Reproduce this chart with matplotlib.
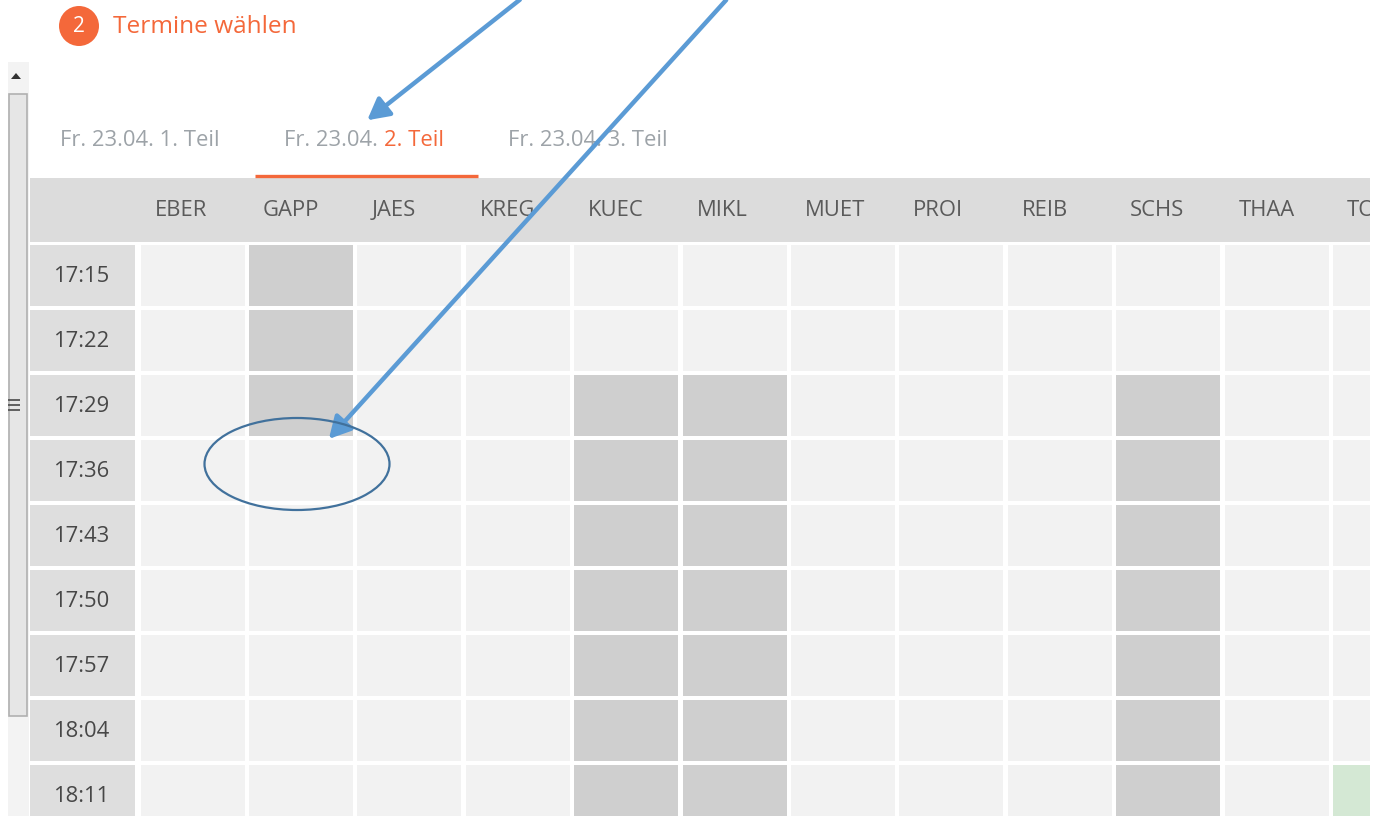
import matplotlib
matplotlib.use("Agg")
import matplotlib.pyplot as plt
from matplotlib.patches import Rectangle, Circle, Ellipse, FancyArrowPatch, Polygon

# ---- data ----
teachers = ["EBER", "GAPP", "JAES", "KREG", "KUEC", "MIKL", "MUET", "PROI", "REIB", "SCHS", "THAA", "TO"]
times = ["17:15", "17:22", "17:29", "17:36", "17:43", "17:50", "17:57", "18:04", "18:11"]
# booked slots (teacher -> list of time labels)
booked = {
    "GAPP": ["17:15", "17:22", "17:29"],
    "KUEC": ["17:29", "17:36", "17:43", "17:50", "17:57", "18:04", "18:11"],
    "MIKL": ["17:29", "17:36", "17:43", "17:50", "17:57", "18:04", "18:11"],
    "SCHS": ["17:29", "17:36", "17:43", "17:50", "17:57", "18:04", "18:11"],
}
selected = {"TO": ["18:11"]}
tabs = ["Fr. 23.04. 1. Teil", "Fr. 23.04. 2. Teil", "Fr. 23.04. 3. Teil"]
active_tab = 1
step_number = "2"
step_title = "Termine wählen"

# ---- style ----
ORANGE = "#f4683a"
GRAYTXT = "#9da3a8"
FONT = ["Open Sans", "DejaVu Sans"]
W, H = 1385, 816

fig = plt.figure(figsize=(W / 100, H / 100), dpi=100)
ax = fig.add_axes([0, 0, 1, 1])
ax.set_xlim(0, W)
ax.set_ylim(H, 0)
ax.axis("off")

# layout
grid_left, grid_right = 30, 1370
head_top, head_bot = 178, 242
col0, col_pitch, col_w = 140.5, 108.4, 104
row0, row_pitch, row_h = 245, 65, 61
time_left, time_w = 30, 105

# scrollbar
ax.add_patch(Rectangle((8, 62), 21, H - 62, facecolor="#f3f3f3", edgecolor="none", zorder=1))
ax.add_patch(Rectangle((9, 94), 18, 622, facecolor="#e6e6e6", edgecolor="#b0b0b0", lw=1.2, zorder=2))
ax.add_patch(Polygon([[11, 79], [21, 79], [16, 73]], closed=True, facecolor="#333333", edgecolor="none", zorder=3))
for yy in (400, 405, 410):
    ax.plot([8, 20], [yy, yy], color="#555555", lw=1.3, zorder=3, solid_capstyle="butt")

# title
ax.add_patch(Circle((79, 26), 20, facecolor=ORANGE, edgecolor="none", zorder=3))
ax.text(79, 27, step_number, fontsize=15, color="white", ha="center", va="center", family=FONT, zorder=4)
ax.text(113, 27, step_title, fontsize=17.6, color=ORANGE, ha="left", va="center", family=FONT, zorder=4)

# tabs
tab_x = [60, 284, 508]
TABFS = 15.8
for i, (tx, label) in enumerate(zip(tab_x, tabs)):
    if i == active_tab:
        prefix, suffix = label[:11], label[11:]
        t = ax.text(tx, 140, prefix, fontsize=TABFS, color=GRAYTXT, ha="left", va="center", family=FONT)
        fig.canvas.draw()
        bb = t.get_window_extent(renderer=fig.canvas.get_renderer())
        ax.text(bb.x1, 140, suffix, fontsize=TABFS, color=ORANGE, ha="left", va="center", family=FONT)
    else:
        ax.text(tx, 140, label, fontsize=TABFS, color=GRAYTXT, ha="left", va="center", family=FONT)
ax.plot([255, 478], [176, 176], color=ORANGE, lw=2.4, solid_capstyle="butt", zorder=3)

# header band
ax.add_patch(Rectangle((grid_left, head_top), grid_right - grid_left, head_bot - head_top,
                       facecolor="#dcdcdc", edgecolor="none", zorder=1))
for i, name in enumerate(teachers):
    lx = col0 + i * col_pitch + 14
    ax.text(lx, 211, name, fontsize=15.8, color="#5a5a5a", ha="left", va="center", family=FONT,
            zorder=2)

# cells
for j, tm in enumerate(times):
    y = row0 + j * row_pitch
    ax.add_patch(Rectangle((time_left, y), time_w, row_h, facecolor="#dedede", edgecolor="none", zorder=1))
    ax.text(time_left + time_w / 2 - 1, y + row_h / 2 + 1, tm, fontsize=15.8, color="#474747",
            ha="center", va="center", family=FONT, zorder=2)
    for i, name in enumerate(teachers):
        x = col0 + i * col_pitch
        w = min(col_w, grid_right - x)
        if tm in booked.get(name, []):
            fc = "#cfcfcf"
        elif tm in selected.get(name, []):
            fc = "#d4e8d4"
        else:
            fc = "#f2f2f2"
        ax.add_patch(Rectangle((x, y), w, row_h, facecolor=fc, edgecolor="none", zorder=1))

# right edge of the scrolled viewport (table is cut off here, as in the screenshot)
ax.add_patch(Rectangle((grid_right, head_top - 2), W - grid_right, H - head_top + 2,
                       facecolor="white", edgecolor="none", zorder=5))

# annotations
BLUE = "#5b9bd5"
a1 = FancyArrowPatch((522, -2), (365, 122), arrowstyle="-|>,head_length=13,head_width=7",
                     mutation_scale=1, color=BLUE, lw=3.2, zorder=6)
a2 = FancyArrowPatch((728, -2), (327, 441), arrowstyle="-|>,head_length=13,head_width=7",
                     mutation_scale=1, color=BLUE, lw=3.2, zorder=6)
ax.add_patch(a1)
ax.add_patch(a2)
ax.add_patch(Ellipse((297, 464), 185, 92, facecolor="none", edgecolor="#41719c", lw=1.6, zorder=6))

fig.savefig("out.png", dpi=100)
